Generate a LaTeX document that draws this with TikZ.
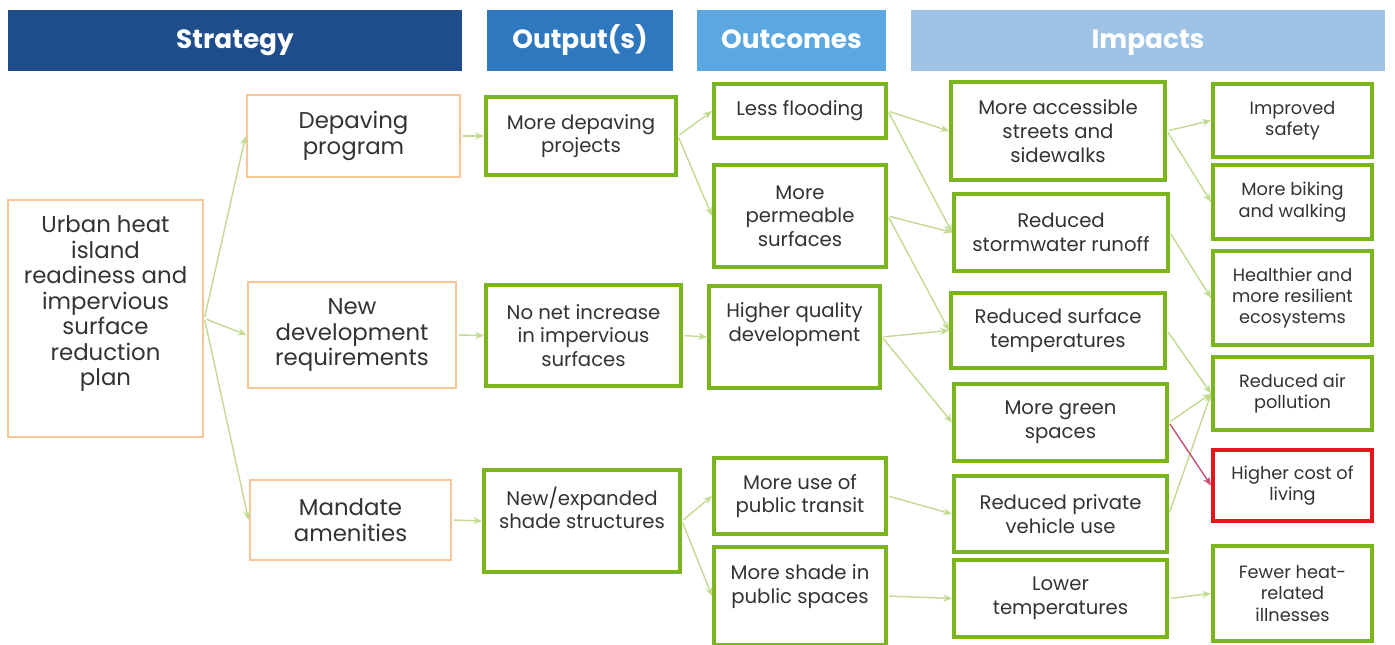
\documentclass[tikz,border=0pt]{standalone}
\usepackage{fontspec}
\setmainfont{Poppins}
\usetikzlibrary{arrows.meta}
\definecolor{hdrnavy}{HTML}{1F4C8A}
\definecolor{hdrblue}{HTML}{2E78C0}
\definecolor{hdrsky}{HTML}{5BA8E0}
\definecolor{hdrpale}{HTML}{9EC3E4}
\definecolor{stratorange}{HTML}{F7C596}
\definecolor{resgreen}{HTML}{7AB51D}
\definecolor{badred}{HTML}{E8141C}
\definecolor{linkgreen}{HTML}{C2DA92}
\definecolor{linkred}{HTML}{C8506E}
\definecolor{textgray}{HTML}{333333}
\begin{document}
\begin{tikzpicture}[x=0.02cm, y=-0.02cm,
    sz/.style 2 args={minimum width=#1*0.02cm, minimum height=#2*0.02cm},
    lift/.style={text depth=#1},
    header/.style={fill=#1, text=white, inner sep=0pt, text height=11pt, text depth=2pt,
        font=\fontsize{15}{17}\selectfont\bfseries},
    strat/.style={draw=stratorange, line width=1.6pt, fill=white, align=center, inner sep=0pt,
        text=textgray, font=\fontsize{13}{14.5}\selectfont},
    res/.style={draw=resgreen, line width=2.2pt, fill=white, align=center, inner sep=0pt,
        text=textgray, font=\fontsize{11.2}{13.3}\selectfont},
    imp/.style={res, font=\fontsize{11.2}{13.6}\selectfont},
    imp2/.style={res, font=\fontsize{10.1}{12.2}\selectfont},
    link/.style={-{Stealth[length=5pt,width=4pt]}, draw=linkgreen, line width=0.8pt, shorten <=1pt}
]
\useasboundingbox (0,0) rectangle (1395,645);
% Headers
\node[header=hdrnavy, sz={454}{61}] (hstrat) at (235,40.5) {Strategy};
\node[header=hdrblue, sz={186}{61}] (hout) at (580,40.5) {Output(s)};
\node[header=hdrsky, sz={189}{61}] (hoc) at (791.5,40.5) {Outcomes};
\node[header=hdrpale, sz={474}{61}] (himp) at (1148,40.5) {Impacts};
% Strategy
\node[strat, sz={195}{237}, lift=20pt] (plan) at (105.5,318.5) {Urban heat\\island\\readiness and\\impervious\\surface\\reduction\\plan};
\node[strat, sz={213}{82}] (depave) at (353.5,136) {Depaving\\program};
\node[strat, sz={208}{106}] (newdev) at (352,335) {New\\development\\requirements};
\node[strat, sz={201}{80}] (mandate) at (350.5,520) {Mandate\\amenities};
% Outputs
\node[res, sz={190}{78}] (projects) at (581,136) {More depaving\\projects};
\node[res, sz={195}{101}] (nonet) at (583.5,335.5) {No net increase\\in impervious\\surfaces};
\node[res, sz={196}{102}, lift=15pt] (shade) at (582,521) {New/expanded\\shade structures};
% Outcomes
\node[res, sz={172}{54}] (flood) at (800,111) {Less flooding};
\node[res, sz={172}{102}] (perm) at (800,216) {More\\permeable\\surfaces};
\node[res, sz={171}{102}, lift=17pt] (quality) at (794.5,337) {Higher quality\\development};
\node[res, sz={172}{76}] (transit) at (800,496) {More use of\\public transit};
\node[res, sz={172}{98}, lift=13.5pt] (pubshade) at (800,596) {More shade in\\public spaces};
% Impacts (first column)
\node[imp, sz={214}{98}] (streets) at (1058,131) {More accessible\\streets and\\sidewalks};
\node[imp, sz={214}{77}] (storm) at (1061,232.5) {Reduced\\stormwater runoff};
\node[imp, sz={214}{75}] (surftemp) at (1058,330.5) {Reduced surface\\temperatures};
\node[imp, sz={213}{77}] (green) at (1060.5,422.5) {More green\\spaces};
\node[imp, sz={213}{76}] (vehicle) at (1060.5,514) {Reduced private\\vehicle use};
\node[imp, sz={213}{77}] (lowtemp) at (1060.5,598.5) {Lower\\temperatures};
% Impacts (second column)
\node[imp2, sz={159}{73}] (safety) at (1292.5,120.5) {Improved\\safety};
\node[imp2, sz={159}{74}] (biking) at (1292.5,202) {More biking\\and walking};
\node[imp2, sz={159}{94}] (eco) at (1292.5,298) {Healthier and\\more resilient\\ecosystems};
\node[imp2, sz={159}{73}] (air) at (1292.5,393.5) {Reduced air\\pollution};
\node[imp2, sz={159}{71}, draw=badred] (cost) at (1292.5,485.5) {Higher cost of\\living};
\node[imp2, sz={159}{95}] (illness) at (1292.5,593.5) {Fewer heat-\\related\\illnesses};
% Strategy links
\draw[link] (plan.east) -- (depave.west);
\draw[link] (plan.east) -- (newdev.west);
\draw[link] (plan.east) -- (mandate.west);
\draw[link] (depave.east) -- (projects.west);
\draw[link] (newdev.east) -- (nonet.west);
\draw[link] (mandate.east) -- (shade.west);
% Output links
\draw[link] (projects.east) -- (flood.west);
\draw[link] (projects.east) -- (perm.west);
\draw[link] (nonet.east) -- (quality.west);
\draw[link] (shade.east) -- (transit.west);
\draw[link] (shade.east) -- (pubshade.west);
% Outcome links
\draw[link] (flood.east) -- (streets.west);
\draw[link] (flood.east) -- (storm.west);
\draw[link] (perm.east) -- (storm.west);
\draw[link] (perm.east) -- (surftemp.west);
\draw[link] (quality.east) -- (surftemp.west);
\draw[link] (quality.east) -- (green.west);
\draw[link] (transit.east) -- (vehicle.west);
\draw[link] (pubshade.east) -- (lowtemp.west);
% Impact links
\draw[link] (streets.east) -- (safety.west);
\draw[link] (streets.east) -- (biking.west);
\draw[link] (storm.east) -- (eco.west);
\draw[link] (surftemp.east) -- (air.west);
\draw[link] (green.east) -- (air.west);
\draw[link] (vehicle.east) -- (air.west);
\draw[link, draw=linkred] (green.east) -- (cost.west);
\draw[link] (lowtemp.east) -- (illness.west);
\end{tikzpicture}
\end{document}
